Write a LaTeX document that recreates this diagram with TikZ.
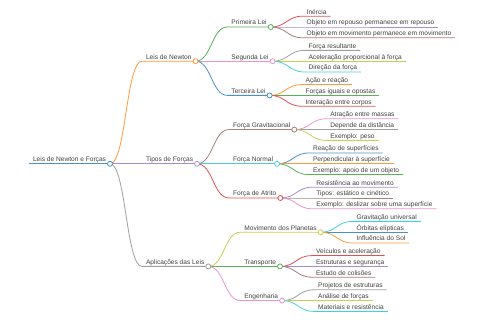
\documentclass[tikz,border=0pt]{standalone}
\usepackage{fontspec}
\setmainfont{Liberation Sans}
\usetikzlibrary{calc}
\definecolor{mmblue}{HTML}{4B92C3}
\definecolor{mmorange}{HTML}{FF9A3E}
\definecolor{mmgreen}{HTML}{56B356}
\definecolor{mmred}{HTML}{DE5253}
\definecolor{mmpurple}{HTML}{A98DCB}
\definecolor{mmbrown}{HTML}{A4817A}
\definecolor{mmpink}{HTML}{EA95D0}
\definecolor{mmgrey}{HTML}{9F9F9F}
\definecolor{mmolive}{HTML}{CDCD55}
\definecolor{mmcyan}{HTML}{4ACDDA}
\begin{document}
\begin{tikzpicture}[x=1pt,y=-1pt,
  txt/.style={font=\fontsize{6.6}{7}\selectfont, text=black!75, anchor=south west,
    inner xsep=4pt, inner ysep=0.6pt, outer sep=0pt, text height=5pt, text depth=1.4pt},
  lnk/.style={line width=0.8pt},
  knot/.style={circle, draw, fill=white, minimum size=5pt, inner sep=0pt, line width=0.8pt}]
  \useasboundingbox (0,0) rectangle (480,320);
  % Root
  \node[txt] (root) at (29,163.8) {Leis de Newton e Forças};
  \draw[lnk,mmblue] (root.south west) -- (root.south east);

  % Leis de Newton
  \node[txt] (newton) at ([xshift=32pt]root.south east |- 0,61.2) {Leis de Newton};
  \draw[lnk,mmorange] (root.south east) .. controls +(16,0) and +(-16,0) .. (newton.south west) -- (newton.south east);
  % Primeira Lei
  \node[txt] (prim) at ([xshift=32pt]newton.south east |- 0,27) {Primeira Lei};
  \draw[lnk,mmgreen] (newton.south east) .. controls +(16,0) and +(-16,0) .. (prim.south west) -- (prim.south east);
  \node[txt] (prim1) at ([xshift=32pt]prim.south east |- 0,16.2) {Inércia};
  \node[txt] (prim2) at ([xshift=32pt]prim.south east |- 0,27) {Objeto em repouso permanece em repouso};
  \node[txt] (prim3) at ([xshift=32pt]prim.south east |- 0,37.8) {Objeto em movimento permanece em movimento};
  \draw[lnk,mmred] (prim.south east) .. controls +(16,0) and +(-16,0) .. (prim1.south west) -- (prim1.south east);
  \draw[lnk,mmpurple] (prim.south east) .. controls +(16,0) and +(-16,0) .. (prim2.south west) -- (prim2.south east);
  \draw[lnk,mmbrown] (prim.south east) .. controls +(16,0) and +(-16,0) .. (prim3.south west) -- (prim3.south east);
  % Segunda Lei
  \node[txt] (seg) at ([xshift=32pt]newton.south east |- 0,61.2) {Segunda Lei};
  \draw[lnk,mmpink] (newton.south east) .. controls +(16,0) and +(-16,0) .. (seg.south west) -- (seg.south east);
  \node[txt] (seg1) at ([xshift=32pt]seg.south east |- 0,50.4) {Força resultante};
  \node[txt] (seg2) at ([xshift=32pt]seg.south east |- 0,61.2) {Aceleração proporcional à força};
  \node[txt] (seg3) at ([xshift=32pt]seg.south east |- 0,72) {Direção da força};
  \draw[lnk,mmgrey] (seg.south east) .. controls +(16,0) and +(-16,0) .. (seg1.south west) -- (seg1.south east);
  \draw[lnk,mmolive] (seg.south east) .. controls +(16,0) and +(-16,0) .. (seg2.south west) -- (seg2.south east);
  \draw[lnk,mmcyan] (seg.south east) .. controls +(16,0) and +(-16,0) .. (seg3.south west) -- (seg3.south east);
  % Terceira Lei
  \node[txt] (terc) at ([xshift=32pt]newton.south east |- 0,95.4) {Terceira Lei};
  \draw[lnk,mmblue] (newton.south east) .. controls +(16,0) and +(-16,0) .. (terc.south west) -- (terc.south east);
  \node[txt] (terc1) at ([xshift=32pt]terc.south east |- 0,84.6) {Ação e reação};
  \node[txt] (terc2) at ([xshift=32pt]terc.south east |- 0,95.4) {Forças iguais e opostas};
  \node[txt] (terc3) at ([xshift=32pt]terc.south east |- 0,106.2) {Interação entre corpos};
  \draw[lnk,mmorange] (terc.south east) .. controls +(16,0) and +(-16,0) .. (terc1.south west) -- (terc1.south east);
  \draw[lnk,mmgreen] (terc.south east) .. controls +(16,0) and +(-16,0) .. (terc2.south west) -- (terc2.south east);
  \draw[lnk,mmred] (terc.south east) .. controls +(16,0) and +(-16,0) .. (terc3.south west) -- (terc3.south east);

  % Tipos de Forças
  \node[txt] (tipos) at ([xshift=32pt]root.south east |- 0,163.8) {Tipos de Forças};
  \draw[lnk,mmpurple] (root.south east) -- (tipos.south west) -- (tipos.south east);
  % Força Gravitacional
  \node[txt] (grav) at ([xshift=32pt]tipos.south east |- 0,129.6) {Força Gravitacional};
  \draw[lnk,mmbrown] (tipos.south east) .. controls +(16,0) and +(-16,0) .. (grav.south west) -- (grav.south east);
  \node[txt] (grav1) at ([xshift=32pt]grav.south east |- 0,118.8) {Atração entre massas};
  \node[txt] (grav2) at ([xshift=32pt]grav.south east |- 0,129.6) {Depende da distância};
  \node[txt] (grav3) at ([xshift=32pt]grav.south east |- 0,140.4) {Exemplo: peso};
  \draw[lnk,mmpink] (grav.south east) .. controls +(16,0) and +(-16,0) .. (grav1.south west) -- (grav1.south east);
  \draw[lnk,mmgrey] (grav.south east) .. controls +(16,0) and +(-16,0) .. (grav2.south west) -- (grav2.south east);
  \draw[lnk,mmolive] (grav.south east) .. controls +(16,0) and +(-16,0) .. (grav3.south west) -- (grav3.south east);
  % Força Normal
  \node[txt] (normal) at ([xshift=32pt]tipos.south east |- 0,163.8) {Força Normal};
  \draw[lnk,mmcyan] (tipos.south east) -- (normal.south west) -- (normal.south east);
  \node[txt] (normal1) at ([xshift=32pt]normal.south east |- 0,153) {Reação de superfícies};
  \node[txt] (normal2) at ([xshift=32pt]normal.south east |- 0,163.8) {Perpendicular à superfície};
  \node[txt] (normal3) at ([xshift=32pt]normal.south east |- 0,174.6) {Exemplo: apoio de um objeto};
  \draw[lnk,mmblue] (normal.south east) .. controls +(16,0) and +(-16,0) .. (normal1.south west) -- (normal1.south east);
  \draw[lnk,mmorange] (normal.south east) .. controls +(16,0) and +(-16,0) .. (normal2.south west) -- (normal2.south east);
  \draw[lnk,mmgreen] (normal.south east) .. controls +(16,0) and +(-16,0) .. (normal3.south west) -- (normal3.south east);
  % Força de Atrito
  \node[txt] (atrito) at ([xshift=32pt]tipos.south east |- 0,198) {Força de Atrito};
  \draw[lnk,mmred] (tipos.south east) .. controls +(16,0) and +(-16,0) .. (atrito.south west) -- (atrito.south east);
  \node[txt] (atrito1) at ([xshift=32pt]atrito.south east |- 0,187.2) {Resistência ao movimento};
  \node[txt] (atrito2) at ([xshift=32pt]atrito.south east |- 0,198) {Tipos: estático e cinético};
  \node[txt] (atrito3) at ([xshift=32pt]atrito.south east |- 0,208.8) {Exemplo: deslizar sobre uma superfície};
  \draw[lnk,mmpurple] (atrito.south east) .. controls +(16,0) and +(-16,0) .. (atrito1.south west) -- (atrito1.south east);
  \draw[lnk,mmbrown] (atrito.south east) .. controls +(16,0) and +(-16,0) .. (atrito2.south west) -- (atrito2.south east);
  \draw[lnk,mmpink] (atrito.south east) .. controls +(16,0) and +(-16,0) .. (atrito3.south west) -- (atrito3.south east);

  % Aplicações das Leis
  \node[txt] (aplic) at ([xshift=32pt]root.south east |- 0,266.4) {Aplicações das Leis};
  \draw[lnk,mmgrey] (root.south east) .. controls +(16,0) and +(-16,0) .. (aplic.south west) -- (aplic.south east);
  % Movimento dos Planetas
  \node[txt] (planetas) at ([xshift=32pt]aplic.south east |- 0,232.2) {Movimento dos Planetas};
  \draw[lnk,mmolive] (aplic.south east) .. controls +(16,0) and +(-16,0) .. (planetas.south west) -- (planetas.south east);
  \node[txt] (planetas1) at ([xshift=32pt]planetas.south east |- 0,221.4) {Gravitação universal};
  \node[txt] (planetas2) at ([xshift=32pt]planetas.south east |- 0,232.2) {Órbitas elípticas};
  \node[txt] (planetas3) at ([xshift=32pt]planetas.south east |- 0,243) {Influência do Sol};
  \draw[lnk,mmcyan] (planetas.south east) .. controls +(16,0) and +(-16,0) .. (planetas1.south west) -- (planetas1.south east);
  \draw[lnk,mmblue] (planetas.south east) .. controls +(16,0) and +(-16,0) .. (planetas2.south west) -- (planetas2.south east);
  \draw[lnk,mmorange] (planetas.south east) .. controls +(16,0) and +(-16,0) .. (planetas3.south west) -- (planetas3.south east);
  % Transporte
  \node[txt] (transp) at ([xshift=32pt]aplic.south east |- 0,266.4) {Transporte};
  \draw[lnk,mmgreen] (aplic.south east) -- (transp.south west) -- (transp.south east);
  \node[txt] (transp1) at ([xshift=32pt]transp.south east |- 0,255.6) {Veículos e aceleração};
  \node[txt] (transp2) at ([xshift=32pt]transp.south east |- 0,266.4) {Estruturas e segurança};
  \node[txt] (transp3) at ([xshift=32pt]transp.south east |- 0,277.2) {Estudo de colisões};
  \draw[lnk,mmred] (transp.south east) .. controls +(16,0) and +(-16,0) .. (transp1.south west) -- (transp1.south east);
  \draw[lnk,mmpurple] (transp.south east) .. controls +(16,0) and +(-16,0) .. (transp2.south west) -- (transp2.south east);
  \draw[lnk,mmbrown] (transp.south east) .. controls +(16,0) and +(-16,0) .. (transp3.south west) -- (transp3.south east);
  % Engenharia
  \node[txt] (eng) at ([xshift=32pt]aplic.south east |- 0,300.6) {Engenharia};
  \draw[lnk,mmpink] (aplic.south east) .. controls +(16,0) and +(-16,0) .. (eng.south west) -- (eng.south east);
  \node[txt] (eng1) at ([xshift=32pt]eng.south east |- 0,289.8) {Projetos de estruturas};
  \node[txt] (eng2) at ([xshift=32pt]eng.south east |- 0,300.6) {Análise de forças};
  \node[txt] (eng3) at ([xshift=32pt]eng.south east |- 0,311.4) {Materiais e resistência};
  \draw[lnk,mmgrey] (eng.south east) .. controls +(16,0) and +(-16,0) .. (eng1.south west) -- (eng1.south east);
  \draw[lnk,mmolive] (eng.south east) .. controls +(16,0) and +(-16,0) .. (eng2.south west) -- (eng2.south east);
  \draw[lnk,mmcyan] (eng.south east) .. controls +(16,0) and +(-16,0) .. (eng3.south west) -- (eng3.south east);

  % Open circles at the end of every branch node
  \node[knot,draw=mmblue] (root-o) at (root.south east) {};
  \node[knot,draw=mmorange] (newton-o) at (newton.south east) {};
  \node[knot,draw=mmgreen] (prim-o) at (prim.south east) {};
  \node[knot,draw=mmpink] (seg-o) at (seg.south east) {};
  \node[knot,draw=mmblue] (terc-o) at (terc.south east) {};
  \node[knot,draw=mmpurple] (tipos-o) at (tipos.south east) {};
  \node[knot,draw=mmbrown] (grav-o) at (grav.south east) {};
  \node[knot,draw=mmcyan] (normal-o) at (normal.south east) {};
  \node[knot,draw=mmred] (atrito-o) at (atrito.south east) {};
  \node[knot,draw=mmgrey] (aplic-o) at (aplic.south east) {};
  \node[knot,draw=mmolive] (planetas-o) at (planetas.south east) {};
  \node[knot,draw=mmgreen] (transp-o) at (transp.south east) {};
  \node[knot,draw=mmpink] (eng-o) at (eng.south east) {};
\end{tikzpicture}
\end{document}
